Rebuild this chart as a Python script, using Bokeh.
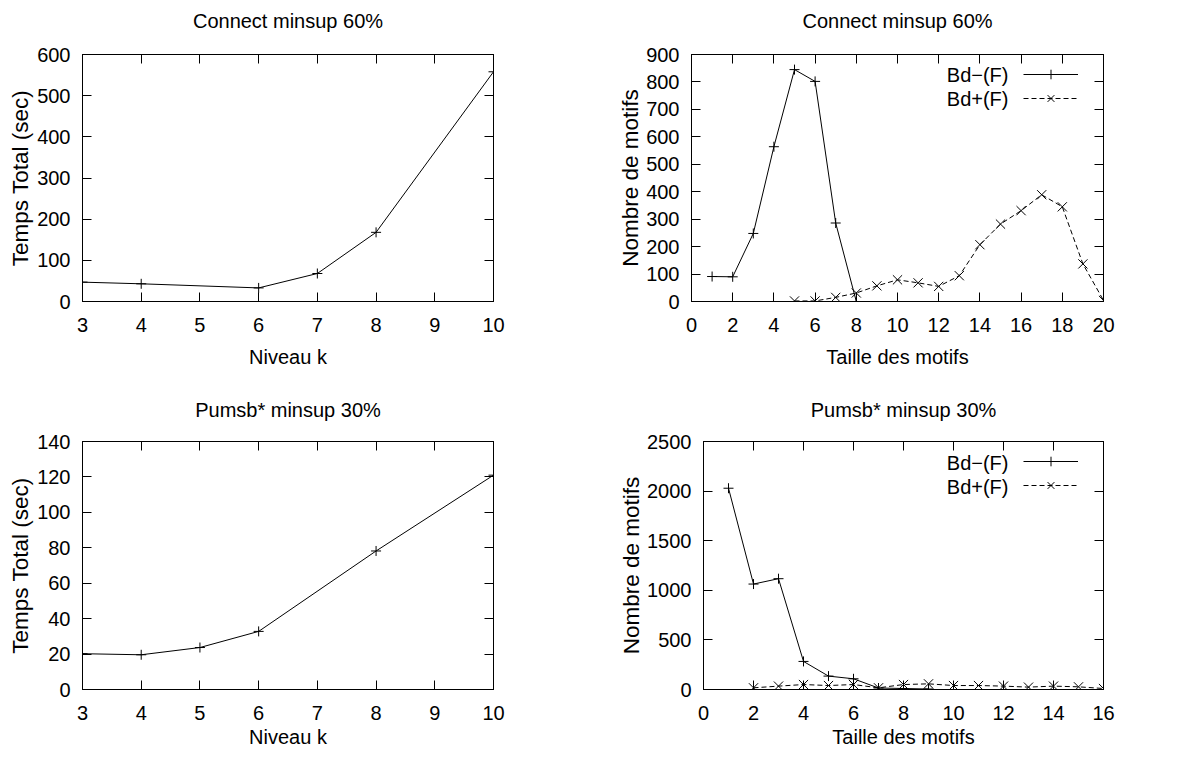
from bokeh.plotting import figure
from bokeh.models import Range1d, FixedTicker, LinearAxis, Legend, LegendItem, Label
from bokeh.layouts import column, row
from bokeh.embed import file_html
from bokeh.resources import INLINE

# ---------------- data ----------------
connect_k = [3, 4, 6, 7, 8, 10]
connect_time = [47, 43, 33, 68, 168, 558]

pumsb_k = [3, 4, 5, 6, 8, 10]
pumsb_time = [20.2, 19.6, 23.7, 32.8, 78.2, 121]

connect_neg_x = [1, 2, 3, 4, 5, 6, 7, 8]
connect_neg_y = [91, 90, 248, 564, 845, 802, 286, 0]
connect_pos_x = [5, 6, 7, 8, 9, 10, 11, 12, 13, 14, 15, 16, 17, 18, 19, 20]
connect_pos_y = [2, 2, 15, 31, 57, 79, 68, 55, 94, 207, 282, 331, 389, 345, 137, 4]

pumsb_neg_x = [1, 2, 3, 4, 5, 6, 7, 8, 9]
pumsb_neg_y = [2029, 1063, 1117, 283, 135, 108, 15, 10, 5]
pumsb_pos_x = [2, 3, 4, 5, 6, 7, 8, 9, 10, 11, 12, 13, 14, 15, 16]
pumsb_pos_y = [17, 34, 50, 40, 50, 17, 50, 57, 40, 40, 34, 24, 34, 27, 10]

titles = ["Connect minsup 60%", "Connect minsup 60%", "Pumsb* minsup 30%", "Pumsb* minsup 30%"]
xlabel_k = "Niveau k"
xlabel_size = "Taille des motifs"
ylabel_time = "Temps Total (sec)"
ylabel_count = "Nombre de motifs"
legend_labels = ["Bd\u2212(F)", "Bd+(F)"]

FONT = "Liberation Sans"
FS = "20px"


def mirror_axis(ticks, label=None, label_standoff=0):
    ax = LinearAxis(ticker=FixedTicker(ticks=ticks), major_tick_in=9, major_tick_out=0,
                    minor_tick_line_color=None, major_label_text_color=None,
                    major_label_text_font_size="1px",
                    major_label_standoff=0, axis_line_color="black",
                    major_tick_line_color="black")
    if label is not None:
        ax.axis_label = label
        ax.axis_label_standoff = label_standoff
        ax.axis_label_text_font = FONT
        ax.axis_label_text_font_size = FS
        ax.axis_label_text_font_style = "normal"
        ax.axis_label_text_color = "black"
    return ax


def make_fig(title, xr, yr, xticks, yticks, xlabel, ylabel, borders, title_standoff,
             xtick_standoff, xlabel_standoff, ylabel_standoff):
    left, right, top, bottom = borders
    p = figure(width=596, height=375, output_backend="svg", toolbar_location=None,
               title=None, x_range=Range1d(*xr), y_range=Range1d(*yr),
               min_border_left=left, min_border_right=right,
               min_border_top=top, min_border_bottom=bottom,
               x_axis_label=xlabel, y_axis_label=ylabel)
    p.grid.visible = False
    p.outline_line_color = "black"
    p.outline_line_alpha = 1
    p.background_fill_color = "white"
    p.border_fill_color = "white"

    for ax, ticks, st in ((p.xaxis[0], xticks, xtick_standoff), (p.yaxis[0], yticks, 12)):
        ax.ticker = FixedTicker(ticks=ticks)
        ax.major_tick_in = 9
        ax.major_tick_out = 0
        ax.minor_tick_line_color = None
        ax.axis_line_color = "black"
        ax.major_tick_line_color = "black"
        ax.major_label_text_font = FONT
        ax.major_label_text_font_size = FS
        ax.major_label_text_color = "black"
        ax.major_label_standoff = st
        ax.axis_label_text_font = FONT
        ax.axis_label_text_font_style = "normal"
        ax.axis_label_text_color = "black"
    p.xaxis[0].axis_label_text_font_size = FS
    p.xaxis[0].axis_label_standoff = xlabel_standoff
    p.yaxis[0].axis_label_text_font_size = "22.5px"
    p.yaxis[0].axis_label_standoff = ylabel_standoff

    # mirrored ticks on top (carrying the panel title) and on the right
    p.add_layout(mirror_axis(xticks, title, title_standoff), "above")
    p.add_layout(mirror_axis(yticks), "right")
    return p


def add_legend(p, rends, lx, ly1, ly2):
    items = [LegendItem(label=" ", renderers=rends[0]),
             LegendItem(label=" ", renderers=rends[1])]
    leg = Legend(items=items, location="top_right", glyph_width=55, glyph_height=24,
                 spacing=0, padding=0, margin=8, label_standoff=0, label_width=17,
                 label_height=20, label_text_font_size=FS,
                 border_line_color=None, background_fill_alpha=0)
    p.add_layout(leg)
    for txt, yy in zip(legend_labels, (ly1, ly2)):
        p.add_layout(Label(x=lx, y=yy, x_units="screen", y_units="screen", text=txt,
                           text_align="right", text_baseline="middle",
                           text_font=FONT, text_font_size=FS, text_color="black"))


# ---- top-left ----
p1 = make_fig(titles[0], (3, 10), (0, 600), list(range(3, 11)), list(range(0, 601, 100)),
              xlabel_k, ylabel_time, (82, 103, 54, 74), 23, 16, 11, 1)
p1.line(connect_k, connect_time, line_color="black", line_width=1)
p1.scatter(connect_k, connect_time, marker="cross", size=10, line_color="black")

# ---- top-right ----
p2 = make_fig(titles[1], (0, 20), (0, 900), list(range(0, 21, 2)), list(range(0, 901, 100)),
              xlabel_size, ylabel_count, (95, 89, 54, 74), 23, 16, 11, 0)
a1 = p2.line(connect_neg_x, connect_neg_y, line_color="black", line_width=1)
a2 = p2.scatter(connect_neg_x, connect_neg_y, marker="cross", size=10, line_color="black")
b1 = p2.line(connect_pos_x, connect_pos_y, line_color="black", line_width=1, line_dash="5 3")
b2 = p2.scatter(connect_pos_x, connect_pos_y, marker="x", size=13, line_color="black")
add_legend(p2, [[a1, a2], [b1, b2]], 317, 227, 203)

# ---- bottom-left ----
p3 = make_fig(titles[2], (3, 10), (0, 140), list(range(3, 11)), list(range(0, 141, 20)),
              xlabel_k, ylabel_time, (82, 103, 66, 61), 21, 16, 3, 1)
p3.line(pumsb_k, pumsb_time, line_color="black", line_width=1)
p3.scatter(pumsb_k, pumsb_time, marker="cross", size=10, line_color="black")

# ---- bottom-right ----
p4 = make_fig(titles[3], (0, 16), (0, 2500), list(range(0, 17, 2)), list(range(0, 2501, 500)),
              xlabel_size, ylabel_count, (107, 89, 66, 61), 21, 16, 3, 0)
c1 = p4.line(pumsb_neg_x, pumsb_neg_y, line_color="black", line_width=1)
c2 = p4.scatter(pumsb_neg_x, pumsb_neg_y, marker="cross", size=10, line_color="black")
d1 = p4.line(pumsb_pos_x, pumsb_pos_y, line_color="black", line_width=1, line_dash="5 3")
d2 = p4.scatter(pumsb_pos_x, pumsb_pos_y, marker="x", size=13, line_color="black")
add_legend(p4, [[c1, c2], [d1, d2]], 305, 227, 203)

layout = column(row(p1, p2), row(p3, p4))
open("out.html", "w").write(file_html(layout, INLINE))
